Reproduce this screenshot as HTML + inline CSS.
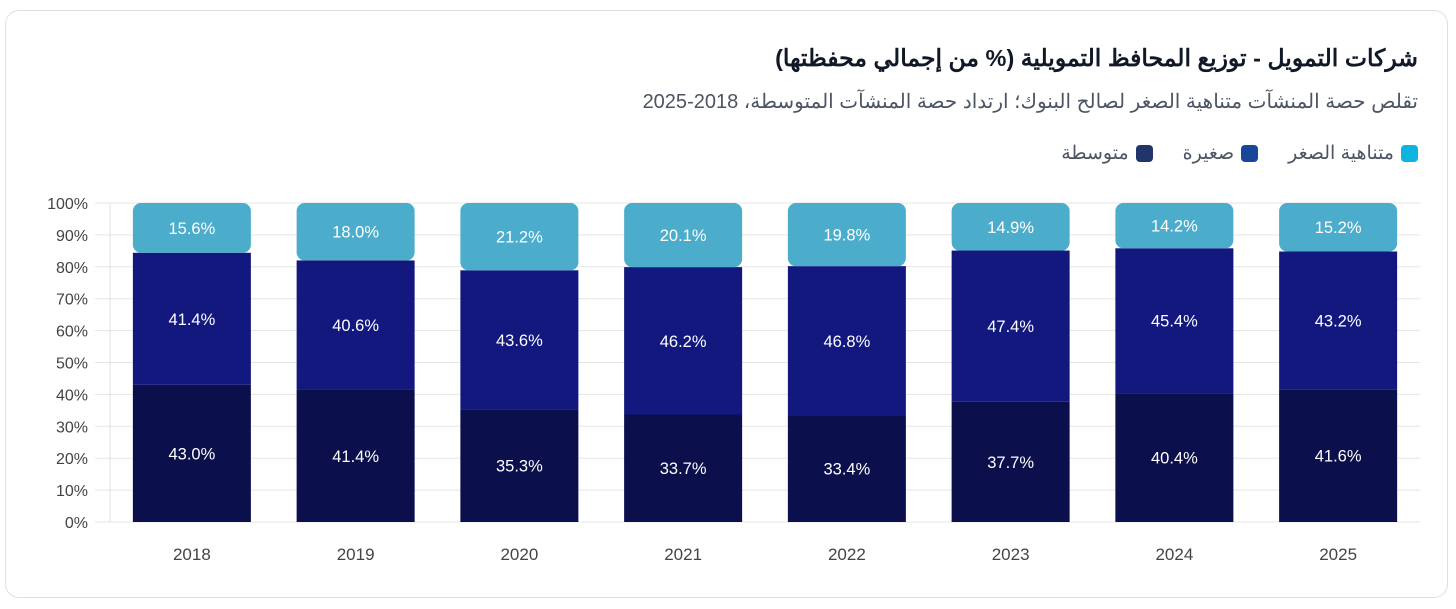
<!DOCTYPE html>
<html><head><meta charset="utf-8"><style>
html,body{margin:0;padding:0;background:#fff;width:1456px;height:609px;overflow:hidden}
.card{position:absolute;left:5px;top:10px;width:1443px;height:588px;border:1.5px solid #dcdfe8;border-radius:14px;box-sizing:border-box}
.ar{font-family:"Liberation Sans","Noto Sans CJK SC",sans-serif;direction:rtl;position:absolute;right:38px;white-space:nowrap}
</style></head><body>
<div class="card"></div>
<div class="ar" style="top:44px;font-size:23.5px;font-weight:bold;color:#111827">شركات التمويل - توزيع المحافظ التمويلية (% من إجمالي محفظتها)</div>
<div class="ar" style="top:89px;font-size:20px;color:#4b5563">تقلص حصة المنشآت متناهية الصغر لصالح البنوك؛ ارتداد حصة المنشآت المتوسطة، 2018-2025</div>
<div class="ar" style="top:142px;font-size:19px;color:#4b5563;display:flex;gap:30px;align-items:center">
<span style="display:flex;align-items:center;gap:7px"><i style="width:17px;height:17px;border-radius:4px;background:#0db4e0;display:inline-block"></i>متناهية الصغر</span>
<span style="display:flex;align-items:center;gap:7px"><i style="width:17px;height:17px;border-radius:4px;background:#1a4697;display:inline-block"></i>صغيرة</span>
<span style="display:flex;align-items:center;gap:7px"><i style="width:17px;height:17px;border-radius:4px;background:#1f356b;display:inline-block"></i>متوسطة</span>
</div>
<svg id="chart" width="1456" height="609" style="position:absolute;left:0;top:0" font-family="Liberation Sans, sans-serif"></svg>
<script>
const years=["2018","2019","2020","2021","2022","2023","2024","2025"];
const medium=[43.0,41.4,35.3,33.7,33.4,37.7,40.4,41.6];
const small=[41.4,40.6,43.6,46.2,46.8,47.4,45.4,43.2];
const micro=[15.6,18.0,21.2,20.1,19.8,14.9,14.2,15.2];
const yTicks=[0,10,20,30,40,50,60,70,80,90,100];
const svg=document.getElementById('chart');
const NS='http://www.w3.org/2000/svg';
const x0=110,x1=1420,y0=522,y100=203;
const y=v=>y0-(y0-y100)*v/100;
const step=(x1-x0)/years.length;
const cx=i=>x0+step*(i+0.5);
const bw=118;
function mk(t,a){const e=document.createElementNS(NS,t);for(const k in a)e.setAttribute(k,a[k]);svg.appendChild(e);return e;}
yTicks.forEach(t=>{
 const l=mk('line',{x1:95,x2:x1,y1:y(t),y2:y(t),stroke:'#e5e5e5','stroke-width':1});
 
 
 const tx=mk('text',{x:88,y:y(t)+6,'text-anchor':'end','font-size':16,fill:'#444'});
 tx.textContent=t+'%';
 
 
});
const ax=mk('line',{x1:x0,x2:x0,y1:y100,y2:y0,stroke:'#e0e0e0'});


function label(txt,xx,yy){const t=mk('text',{x:xx,y:yy+6,'text-anchor':'middle','font-size':16.5,fill:'#fff'});t.textContent=txt;
 
 }
years.forEach((yr,i)=>{
 const c=cx(i),L=c-bw/2;
 const m=medium[i],s=small[i],mi=micro[i];
 const r1=mk('rect',{x:L,y:y(m),width:bw,height:y(0)-y(m),fill:'#0b0f4c'});
 
 
 const r2=mk('rect',{x:L,y:y(m+s),width:bw,height:y(m)-y(m+s),fill:'#12187e'});
 
 
 const top=Math.min(100,m+s+mi);
 const r3=mk('rect',{x:L,y:y(top),width:bw,height:y(m+s)-y(top),fill:'#4badcb',rx:8,ry:8});
 
 
 label(m.toFixed(1)+'%',c,(y(0)+y(m))/2);
 label(s.toFixed(1)+'%',c,(y(m)+y(m+s))/2);
 label(mi.toFixed(1)+'%',c,(y(m+s)+y(top))/2);
 const xt=mk('text',{x:c,y:560,'text-anchor':'middle','font-size':17,fill:'#444'});
 xt.textContent=yr;
 
 
});
</script>
</body></html>
